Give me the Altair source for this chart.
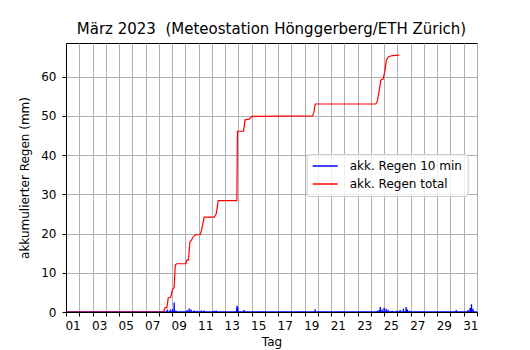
import altair as alt
import pandas as pd

# ---- data (time in days since 1 March 00:00) ----
LAB_10 = "akk. Regen 10 min"
LAB_TOT = "akk. Regen total"

red_t = [0, 7.35, 7.48, 7.61, 7.71, 7.91, 8.03, 8.16, 8.24, 8.33,
         9.04, 9.12, 9.24, 9.34, 9.46, 9.62, 9.80, 10.12, 10.25, 10.42,
         11.18, 11.33, 11.48, 12.89, 12.93, 13.39, 13.51, 13.82, 14.02, 18.59,
         18.70, 18.79, 23.37, 23.49, 23.62, 23.75, 23.92, 24.05, 24.17, 24.32,
         24.62, 25.13]
red_v = [0, 0, 1.1, 1.1, 3.6, 3.8, 5.8, 6.2, 11.9, 12.3,
         12.3, 13.3, 13.3, 17.8, 18.3, 19.3, 19.7, 19.7, 21.2, 24.2,
         24.2, 25.0, 28.4, 28.4, 46.1, 46.1, 49.0, 49.2, 49.9, 50.0,
         50.9, 53.05, 53.05, 53.9, 56.4, 59.2, 59.4, 61.5, 64.3, 65.1,
         65.4, 65.5]

rain_t = [7.63, 7.86, 8.03, 8.16, 8.29, 9.14, 9.29, 9.44, 9.67, 9.89,
          10.20, 10.42, 11.18, 11.33, 12.88, 12.91, 12.95, 13.44, 13.97, 18.79,
          23.47, 23.62, 23.70, 23.85, 24.00, 24.15, 24.30, 24.60, 24.98, 25.20,
          25.45, 25.65, 25.75, 25.90, 28.90, 29.05, 29.43, 30.33, 30.48, 30.58,
          30.70]
rain_v = [0.6, 0.6, 0.7, 2.4, 0.4, 0.5, 0.9, 0.6, 0.4, 0.3,
          0.4, 0.4, 0.3, 0.4, 1.2, 1.6, 1.1, 0.5, 0.2, 0.7,
          0.3, 0.5, 1.3, 0.7, 1.1, 0.8, 0.5, 0.3, 0.3, 0.5,
          0.8, 1.3, 0.6, 0.3, 0.2, 0.2, 0.5, 0.5, 1.0, 1.95,
          0.8]

y_ticks = [0, 10, 20, 30, 40, 50, 60]

# 10-minute series: no rain except the listed intervals
PER_DAY = 144
N = 31 * PER_DAY
series = [0.0] * (N + 1)
for t, v in zip(rain_t, rain_v):
    series[round(t * PER_DAY)] = v
blue_df = pd.DataFrame({"t": [i / PER_DAY for i in range(N + 1)], "v": series, "s": LAB_10})
red_df = pd.DataFrame({"t": red_t, "v": red_v, "s": LAB_TOT})

x_vals = [i * 0.5 for i in range(63)]
is_int = "datum.value % 1 === 0"

x_enc = alt.X(
    "t:Q",
    scale=alt.Scale(domain=[0, 31], nice=False, zero=False),
    axis=alt.Axis(
        values=x_vals,
        title="Tag",
        labelExpr="datum.value % 2 === 0.5 ? ((floor(datum.value) < 9 ? '0' : '') + (floor(datum.value) + 1)) : ''",
        tickOpacity={"condition": {"test": is_int, "value": 1}, "value": 0},
        gridOpacity={"condition": {"test": is_int, "value": 1}, "value": 0},
        labelOverlap=False,
        labelFlush=False,
        labelPadding=4,
        titlePadding=5,
        grid=True,
    ),
)
y_enc = alt.Y(
    "v:Q",
    scale=alt.Scale(domain=[0, 68.6], nice=False),
    axis=alt.Axis(values=y_ticks, title="akkumulierter Regen (mm)", grid=True,
                  labelPadding=6, titlePadding=9),
)
color_enc = alt.Color(
    "s:N",
    scale=alt.Scale(domain=[LAB_10, LAB_TOT], range=["#0000ff", "#ff0000"]),
    legend=alt.Legend(
        title=None, orient="none", legendX=240.7, legendY=111,
        symbolType="stroke", symbolSize=625, symbolStrokeWidth=1.5,
        clipHeight=14, rowPadding=4, padding=5, labelOffset=11,
        labelFontSize=12, labelFont="DejaVu Sans", labelColor="black",
        fillColor="rgba(255,255,255,0.8)", strokeColor="#cccccc", cornerRadius=3,
    ),
)

blue = alt.Chart(blue_df).mark_line(strokeWidth=1.3, clip=True).encode(x=x_enc, y=y_enc, color=color_enc)
red = alt.Chart(red_df).mark_line(strokeWidth=1.2, clip=True).encode(x=x_enc, y=y_enc, color=color_enc)

chart = alt.layer(blue, red).properties(
    width=411, height=269,
    title=alt.TitleParams(text="März 2023 \u00a0(Meteostation Hönggerberg/ETH Zürich)",
                          fontSize=15, font="DejaVu Sans", fontWeight="normal",
                          color="black", offset=6, anchor="middle", frame="group"),
    autosize=alt.AutoSizeParams(type="none"),
    padding={"left": 66, "top": 43, "right": 53, "bottom": 38},
).configure_axis(
    labelFont="DejaVu Sans", titleFont="DejaVu Sans", labelFontSize=12, titleFontSize=12,
    titleFontWeight="normal", labelColor="black", titleColor="black",
    domainColor="black", tickColor="black", gridColor="#b0b0b0", tickSize=4,
    gridWidth=1, domainWidth=1,
).configure_view(stroke="black", strokeWidth=1)

chart.save("out.html", embed_options={"renderer": "svg", "actions": False})
